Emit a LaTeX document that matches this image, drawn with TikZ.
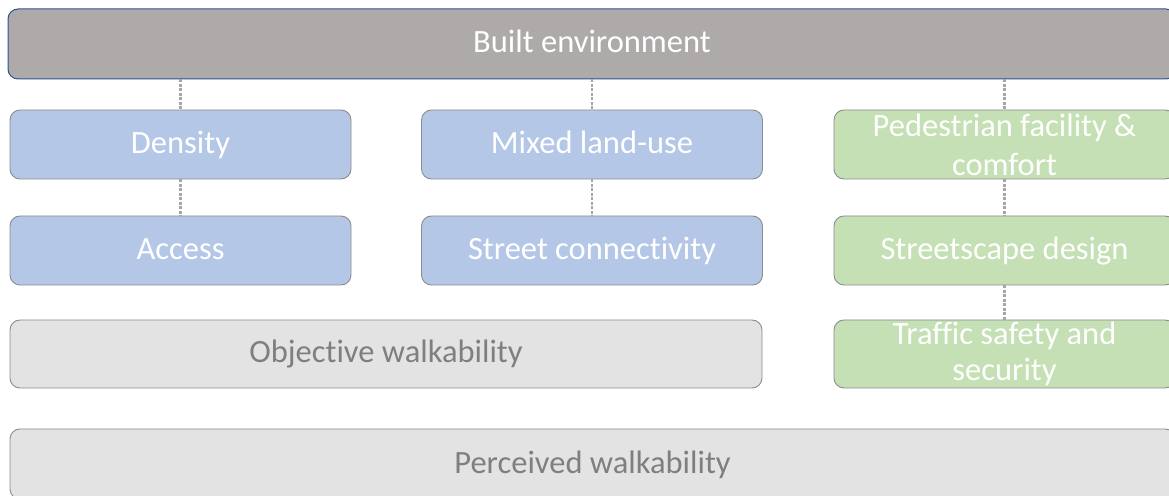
\documentclass[tikz,border=0pt]{standalone}
\usepackage{fontspec}
\setmainfont{Carlito}[Ligatures=NoCommon]
\usepackage{xcolor}
\usepackage{tikz}
\usetikzlibrary{positioning, calc}
\definecolor{builtgray}{RGB}{174, 170, 170}
\definecolor{builtline}{RGB}{47, 82, 143}
\definecolor{densityblue}{RGB}{180, 199, 231}
\definecolor{designgreen}{RGB}{197, 224, 180}
\definecolor{walkgray}{RGB}{227, 227, 227}
\definecolor{boxline}{RGB}{140, 140, 140}
\definecolor{walktext}{RGB}{127, 127, 127}
\definecolor{linkgray}{RGB}{166, 166, 166}

\begin{document}
\begin{tikzpicture}[x=1pt, y=1pt,
    box/.style={draw=boxline, line width=0.9pt, rounded corners=10pt, inner sep=0pt,
        minimum height=69pt, font=\fontsize{32.5}{39}\selectfont},
    oneline/.style={box, text height=24pt, text depth=6pt},
    twoline/.style={box, text width=330pt, align=flush center},
    bluebox/.style={oneline, fill=densityblue, text=white, minimum width=341pt},
    greenbox/.style={fill=designgreen, text=white, minimum width=341pt},
    walkbox/.style={oneline, fill=walkgray, text=walktext, minimum height=68pt},
    link/.style={draw=linkgray, line width=2.8pt, dash pattern=on 2.6pt off 1.9pt}]
    \useasboundingbox (0,0) rectangle (1169,495);

    \node[oneline, fill=builtgray, draw=builtline, line width=1pt, text=white,
          minimum width=1168pt, minimum height=70pt] (built) at (592,451) {Built environment};

    % planning measures
    \node[bluebox] (density) at (180.5,350.5) {Density};
    \node[bluebox] (mixed) at (592,350.5) {Mixed land-use};
    \node[bluebox] (access) at (180.5,244.5) {Access};
    \node[bluebox] (street) at (592,244.5) {Street connectivity};

    % design measures
    \node[twoline, greenbox] (facility) at (1004.5,350.5) {Pedestrian facility \&\\comfort};
    \node[oneline, greenbox] (streetscape) at (1004.5,244.5) {Streetscape design};
    \node[twoline, greenbox, minimum height=68pt, font=\fontsize{32.5}{36}\selectfont]
        (safety) at (1004.5,141) {Traffic safety and\\security};

    \node[walkbox, minimum width=752pt] (objective) at (386,141) {Objective walkability};
    \node[walkbox, minimum width=1165pt, minimum height=70pt] (perceived) at (592.5,31) {Perceived walkability};

    % dotted links
    \draw[link] (built.south -| density.north) -- (density.north);
    \draw[link] (built.south -| mixed.north) -- (mixed.north);
    \draw[link] (built.south -| facility.north) -- (facility.north);
    \draw[link] (density) -- (access);
    \draw[link] (mixed) -- (street);
    \draw[link] (facility) -- (streetscape);
    \draw[link] (streetscape) -- (safety);
\end{tikzpicture}
\end{document}
